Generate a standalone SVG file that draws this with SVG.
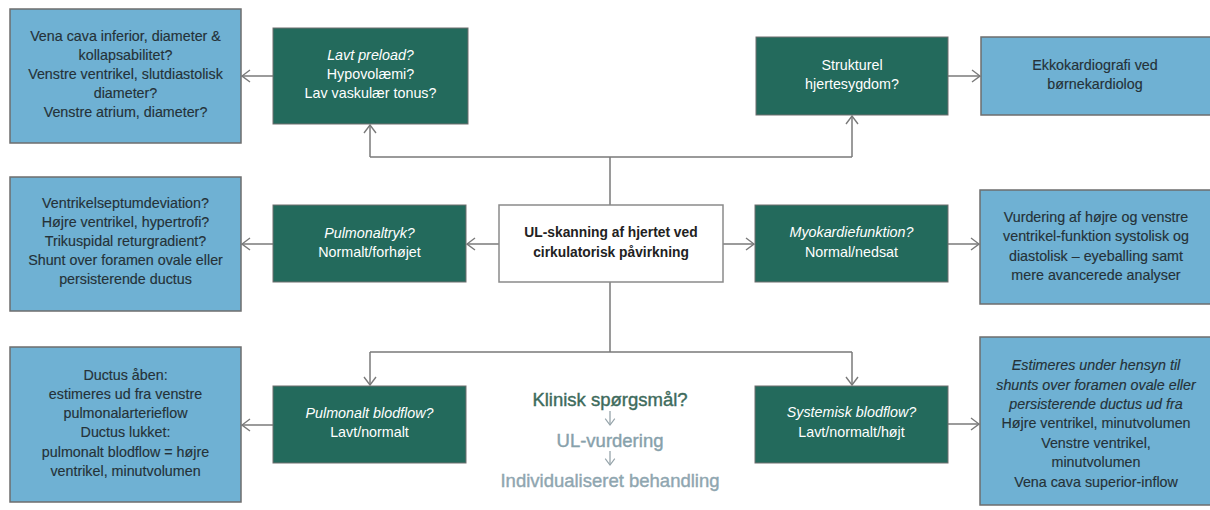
<svg xmlns="http://www.w3.org/2000/svg" width="1210" height="510" viewBox="0 0 1210 510">
<defs>
<style>
text{font-family:"Liberation Sans",Arial,sans-serif;font-size:14.3px;text-anchor:middle}
.blue{fill:#6fb1d3;stroke:#6e6e6e;stroke-width:1.5}
.green{fill:#236a5c;stroke:#6e6e6e;stroke-width:1}
.white{fill:#ffffff;stroke:#8a8a8a;stroke-width:1.5}
.bt{fill:#253238;stroke:#253238;stroke-width:0.15}
.gt{fill:#ffffff}
.ct{fill:#222;font-weight:bold;font-size:13.8px}
.it{font-style:italic}
.con{fill:none;stroke:#7a7a7a;stroke-width:1.5}
.leg{font-size:18.5px;stroke-width:0.4}
</style>
<marker id="ah" viewBox="0 0 10 14" refX="9" refY="7" markerWidth="10" markerHeight="14" markerUnits="userSpaceOnUse" orient="auto">
<path d="M1,1 L9,7 L1,13" fill="none" stroke="#7a7a7a" stroke-width="1.4"/>
</marker>
<marker id="ah2" viewBox="0 0 10 14" refX="9" refY="7" markerWidth="8" markerHeight="13" markerUnits="userSpaceOnUse" orient="auto">
<path d="M1,1 L9,7 L1,13" fill="none" stroke="#97a5ab" stroke-width="1.5"/>
</marker>
</defs>
<rect width="1210" height="510" fill="#ffffff"/>

<g id="connectors">
<path class="con" d="M273,76 H242" marker-end="url(#ah)"/>
<path class="con" d="M610,205 V157 M370,157 H852"/>
<path class="con" d="M370,157 V125" marker-end="url(#ah)"/>
<path class="con" d="M852,157 V116" marker-end="url(#ah)"/>
<path class="con" d="M948,76 H980" marker-end="url(#ah)"/>
<path class="con" d="M499,244 H467" marker-end="url(#ah)"/>
<path class="con" d="M273,244 H242" marker-end="url(#ah)"/>
<path class="con" d="M723,244 H754" marker-end="url(#ah)"/>
<path class="con" d="M948,244 H979" marker-end="url(#ah)"/>
<path class="con" d="M610,282 V352 M370,352 H852"/>
<path class="con" d="M370,352 V385" marker-end="url(#ah)"/>
<path class="con" d="M852,352 V385" marker-end="url(#ah)"/>
<path class="con" d="M273,425 H242" marker-end="url(#ah)"/>
<path class="con" d="M948,424 H979" marker-end="url(#ah)"/>
</g>

<g id="n-vena">
<rect class="blue" x="10" y="9" width="231" height="134"/>
<text class="bt" x="125.5" y="41">Vena cava inferior, diameter &amp;</text>
<text class="bt" x="125.5" y="60">kollapsabilitet?</text>
<text class="bt" x="125.5" y="79">Venstre ventrikel, slutdiastolisk</text>
<text class="bt" x="125.5" y="98">diameter?</text>
<text class="bt" x="125.5" y="117">Venstre atrium, diameter?</text>
</g>

<g id="n-preload">
<rect class="green" x="273" y="28" width="195" height="96"/>
<text class="gt it" x="370.5" y="60">Lavt preload?</text>
<text class="gt" x="370.5" y="79">Hypovolæmi?</text>
<text class="gt" x="370.5" y="98">Lav vaskulær tonus?</text>
</g>

<g id="n-strukturel">
<rect class="green" x="756" y="37" width="192" height="78"/>
<text class="gt" x="852" y="70">Strukturel</text>
<text class="gt" x="852" y="89">hjertesygdom?</text>
</g>

<g id="n-ekko">
<rect class="blue" x="981" y="37" width="235" height="78"/>
<text class="bt" x="1095" y="70">Ekkokardiografi ved</text>
<text class="bt" x="1095" y="89">børnekardiolog</text>
</g>

<g id="n-septum">
<rect class="blue" x="10" y="177" width="231" height="134"/>
<text class="bt" x="125.5" y="208">Ventrikelseptumdeviation?</text>
<text class="bt" x="125.5" y="227">Højre ventrikel, hypertrofi?</text>
<text class="bt" x="125.5" y="246">Trikuspidal returgradient?</text>
<text class="bt" x="125.5" y="265">Shunt over foramen ovale eller</text>
<text class="bt" x="125.5" y="284">persisterende ductus</text>
</g>

<g id="n-pulmonaltryk">
<rect class="green" x="273" y="205" width="193" height="77"/>
<text class="gt it" x="369.5" y="238">Pulmonaltryk?</text>
<text class="gt" x="369.5" y="257">Normalt/forhøjet</text>
</g>

<g id="n-center">
<rect class="white" x="499" y="205" width="224" height="77"/>
<text class="ct" x="611" y="237">UL-skanning af hjertet ved</text>
<text class="ct" x="611" y="257">cirkulatorisk påvirkning</text>
</g>

<g id="n-myokardie">
<rect class="green" x="755" y="205" width="193" height="77"/>
<text class="gt it" x="851.5" y="237">Myokardiefunktion?</text>
<text class="gt" x="851.5" y="257">Normal/nedsat</text>
</g>

<g id="n-vurdering">
<rect class="blue" x="980" y="190" width="236" height="114"/>
<text class="bt" x="1096" y="222">Vurdering af højre og venstre</text>
<text class="bt" x="1096" y="241">ventrikel-funktion systolisk og</text>
<text class="bt" x="1096" y="261">diastolisk – eyeballing samt</text>
<text class="bt" x="1096" y="280">mere avancerede analyser</text>
</g>

<g id="n-ductus">
<rect class="blue" x="10" y="347" width="231" height="155"/>
<text class="bt" x="125.5" y="380">Ductus åben:</text>
<text class="bt" x="125.5" y="399">estimeres ud fra venstre</text>
<text class="bt" x="125.5" y="418">pulmonalarterieflow</text>
<text class="bt" x="125.5" y="437">Ductus lukket:</text>
<text class="bt" x="125.5" y="457">pulmonalt blodflow = højre</text>
<text class="bt" x="125.5" y="476">ventrikel, minutvolumen</text>
</g>

<g id="n-pulmonaltflow">
<rect class="green" x="273" y="386" width="193" height="77"/>
<text class="gt it" x="369.5" y="418">Pulmonalt blodflow?</text>
<text class="gt" x="369.5" y="437">Lavt/normalt</text>
</g>

<g id="n-systemisk">
<rect class="green" x="755" y="386" width="193" height="77"/>
<text class="gt it" x="851.5" y="417">Systemisk blodflow?</text>
<text class="gt" x="851.5" y="437">Lavt/normalt/højt</text>
</g>

<g id="n-estimeres">
<rect class="blue" x="980" y="337" width="236" height="168"/>
<text class="bt it" x="1096" y="370">Estimeres under hensyn til</text>
<text class="bt it" x="1096" y="390">shunts over foramen ovale eller</text>
<text class="bt it" x="1096" y="409">persisterende ductus ud fra</text>
<text class="bt" x="1096" y="428">Højre ventrikel, minutvolumen</text>
<text class="bt" x="1096" y="448">Venstre ventrikel,</text>
<text class="bt" x="1096" y="467">minutvolumen</text>
<text class="bt" x="1096" y="487">Vena cava superior-inflow</text>
</g>

<g id="legend">
<text class="leg" x="610" y="406" fill="#3e6b5c" stroke="#3e6b5c">Klinisk spørgsmål?</text>
<path d="M610,411 V425" fill="none" stroke="#97a5ab" stroke-width="1.3" marker-end="url(#ah2)"/>
<text class="leg" x="610" y="447" fill="#87a1ab" stroke="#87a1ab">UL-vurdering</text>
<path d="M610,451 V465" fill="none" stroke="#97a5ab" stroke-width="1.3" marker-end="url(#ah2)"/>
<text class="leg" x="610" y="487" fill="#8fa6b0" stroke="#8fa6b0">Individualiseret behandling</text>
</g>
</svg>
